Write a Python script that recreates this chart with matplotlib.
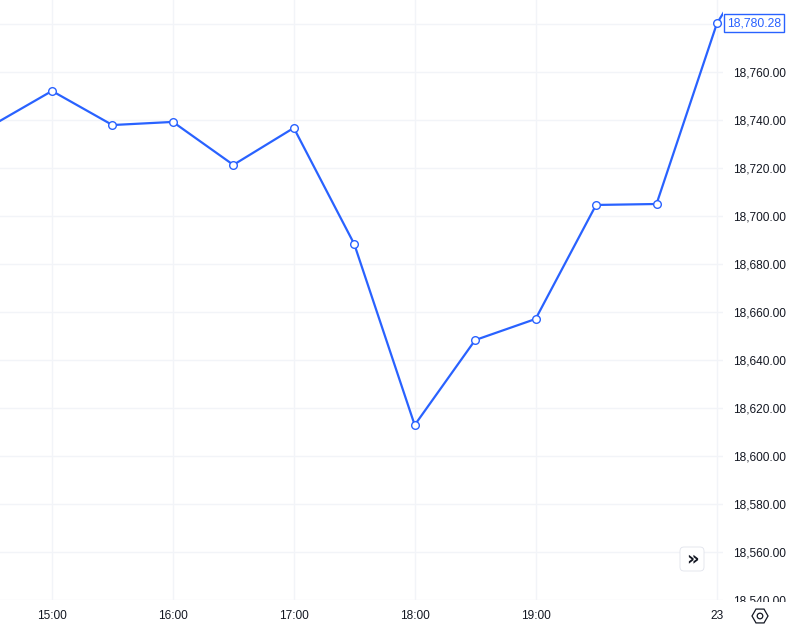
import numpy as np
import matplotlib.pyplot as plt
from matplotlib.patches import FancyBboxPatch, RegularPolygon, Circle, Rectangle

# 30-minute closes; first and last are the bars just outside the view
prices = [18737.6, 18752.1, 18737.9, 18739.2, 18721.3, 18736.7, 18688.3,
          18612.9, 18648.3, 18657.1, 18704.6, 18705.0, 18780.28, 18821.0]
bar_index = list(range(-1, len(prices) - 1))
time_ticks = [0, 2, 4, 6, 8, 11]
time_labels = ["15:00", "16:00", "17:00", "18:00", "19:00", "23"]
price_ticks = list(range(18540, 18781, 20))
last_price = 18780.28

line_col = "#2962FF"
text_col = "#131722"
grid_col = "#F2F4F8"

plt.rcParams['font.family'] = ['Liberation Sans', 'DejaVu Sans']

fig = plt.figure(figsize=(7.9, 6.28), dpi=100)
ax = fig.add_axes([0, 28 / 628, 723 / 790, 600 / 628])

ax.plot(bar_index, prices, color=line_col, lw=1.6, zorder=3)
ax.plot(bar_index[1:-1], prices[1:-1], ls="none", marker="o", ms=5.5,
        mfc="white", mec=line_col, mew=1.0, zorder=4)

ax.set_xlim(-0.86, 11.1)
ax.set_ylim(18540, 18790)

ax.set_xticks(time_ticks)
ax.set_xticklabels(time_labels)
ax.set_yticks(price_ticks)
# the top level is covered by the last price label
ax.set_yticklabels([f"{v:,.2f}" if v < 18780 else "" for v in price_ticks])
ax.yaxis.tick_right()
ax.tick_params(axis="both", length=0, labelsize=8.6, labelcolor=text_col)
ax.tick_params(axis="y", pad=7.5)
ax.tick_params(axis="x", pad=7)
ax.grid(True, color=grid_col, lw=1)
ax.set_axisbelow(True)
for s in ax.spines.values():
    s.set_visible(False)

# hide the lowest price label where the time scale covers it
fig.patches.append(Rectangle((723 / 790, 0), 67 / 790, 26 / 628,
                             transform=fig.transFigure, facecolor="white",
                             edgecolor="none", zorder=5))

# last price label
ax.annotate(f"{last_price:,.2f}", xy=(1, last_price), xycoords=("axes fraction", "data"),
            xytext=(3, 0), textcoords="offset points", va="center", ha="left",
            fontsize=8.8, color=line_col, annotation_clip=False,
            bbox=dict(boxstyle="square,pad=0.25", fc="white", ec=line_col, lw=1))

# scroll button
fig.patches.append(FancyBboxPatch((6.80, 0.57), 0.24, 0.24,
                                  boxstyle="round,pad=0,rounding_size=0.04",
                                  transform=fig.dpi_scale_trans, facecolor="white",
                                  edgecolor="#E0E3EB", lw=0.6, zorder=6))
fig.text(6.92 / 7.9, 0.69 / 6.28, "»", ha="center", va="center", fontsize=14,
         fontweight="bold", color=text_col, zorder=7, family="DejaVu Sans")

# settings icon
fig.patches.append(RegularPolygon((7.60, 0.12), 6, radius=0.08, orientation=np.pi / 6,
                                  transform=fig.dpi_scale_trans, facecolor="none",
                                  edgecolor=text_col, lw=0.9, zorder=6))
fig.patches.append(Circle((7.60, 0.12), 0.028, transform=fig.dpi_scale_trans,
                          facecolor="none", edgecolor=text_col, lw=0.9, zorder=6))

fig.savefig("out.png", dpi=100)
